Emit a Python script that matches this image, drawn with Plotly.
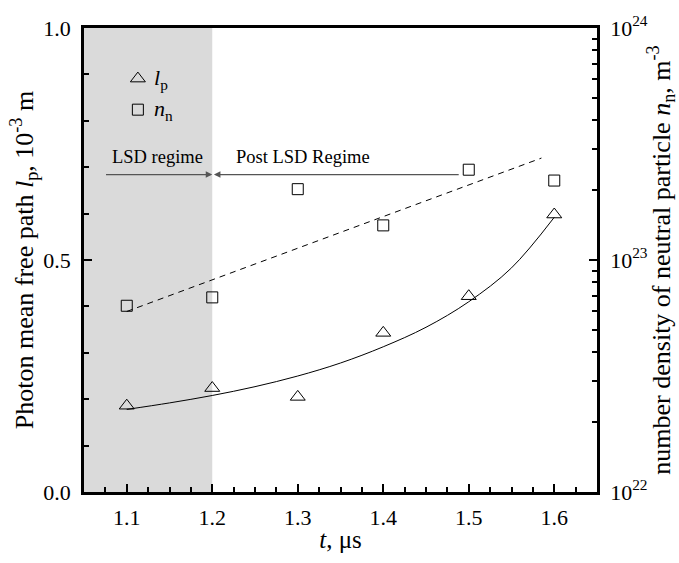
import plotly.graph_objects as go

# ---- data ----
t_us = [1.1, 1.2, 1.3, 1.4, 1.5, 1.6]
l_p = [0.186, 0.224, 0.205, 0.343, 0.422, 0.598]          # 10^-3 m
n_n = [6.35e22, 6.9e22, 2.02e23, 1.41e23, 2.45e23, 2.2e23]  # m^-3

# fitted curve for l_p
fit_t = [1.1, 1.15, 1.2, 1.25, 1.3, 1.35, 1.4, 1.45, 1.5, 1.55, 1.6]
fit_lp = [0.178, 0.192, 0.208, 0.227, 0.25, 0.278, 0.313, 0.355, 0.41, 0.483, 0.592]

# fitted line for n_n (log scale)
fit_nt = [1.1, 1.585]
fit_nn = [6.0e22, 2.75e23]

x_range = [1.05, 1.65]
lsd_end = 1.2
y2_tickvals = [1e22, 1e23, 1e24]
y2_ticktext = ["10<sup>22</sup>", "10<sup>23</sup>", "10<sup>24</sup>"]
y2_minor = [float(k) * 10.0 ** e for e in (22, 23) for k in range(2, 10)]

FONT = "Liberation Serif"

fig = go.Figure()

fig.add_trace(go.Scatter(x=fit_t, y=fit_lp, mode="lines", line=dict(color="black", width=1, shape="spline"),
                         showlegend=False, hoverinfo="skip"))
fig.add_trace(go.Scatter(x=fit_nt, y=fit_nn, mode="lines", yaxis="y2",
                         line=dict(color="black", width=1, dash="6px,5px"), showlegend=False, hoverinfo="skip"))
fig.add_trace(go.Scatter(x=t_us, y=l_p, mode="markers", name="l_p",
                         marker=dict(symbol="triangle-up-open", size=13, color="black", line=dict(width=1)),
                         showlegend=False))
fig.add_trace(go.Scatter(x=t_us, y=n_n, mode="markers", yaxis="y2", name="n_n",
                         marker=dict(symbol="square-open", size=11, color="black", line=dict(width=1)),
                         showlegend=False))

# shaded LSD regime
fig.add_shape(type="rect", xref="x", yref="paper", x0=x_range[0], x1=lsd_end, y0=0, y1=1,
              fillcolor="#dadada", line=dict(width=0), layer="below")

# legend drawn as annotations + markers
fig.add_trace(go.Scatter(x=[1.113], y=[0.891], mode="markers", showlegend=False, hoverinfo="skip",
                         marker=dict(symbol="triangle-up-open", size=13, color="black", line=dict(width=1))))
fig.add_trace(go.Scatter(x=[1.113], y=[0.824], mode="markers", showlegend=False, hoverinfo="skip",
                         marker=dict(symbol="square-open", size=11, color="black", line=dict(width=1))))
fig.add_annotation(x=1.13, y=0.891, text="<i>l</i><sub>p</sub>", showarrow=False, xanchor="left",
                   font=dict(family=FONT, size=22, color="black"))
fig.add_annotation(x=1.13, y=0.824, text="<i>n</i><sub>n</sub>", showarrow=False, xanchor="left",
                   font=dict(family=FONT, size=22, color="black"))

# arrows
arrow_y = 0.684
fig.add_annotation(x=lsd_end, y=arrow_y, ax=1.074, ay=arrow_y, xref="x", yref="y", axref="x", ayref="y",
                   showarrow=True, arrowhead=2, arrowsize=1, arrowwidth=1.3, arrowcolor="#555555", text="")
fig.add_annotation(x=lsd_end + 0.002, y=arrow_y, ax=1.49, ay=arrow_y, xref="x", yref="y", axref="x", ayref="y",
                   showarrow=True, arrowhead=2, arrowsize=1, arrowwidth=1.3, arrowcolor="#555555", text="")
fig.add_annotation(x=1.136, y=0.722, text="LSD regime", showarrow=False,
                   font=dict(family=FONT, size=18.5, color="black"))
fig.add_annotation(x=1.306, y=0.722, text="Post LSD Regime", showarrow=False,
                   font=dict(family=FONT, size=18.5, color="black"))

axis_common = dict(showline=True, linecolor="black", linewidth=2.5, ticks="inside", tickcolor="black",
                   tickwidth=2, ticklen=8, showgrid=False, zeroline=False,
                   tickfont=dict(family=FONT, size=22, color="black"))

fig.update_layout(
    width=679, height=563,
    margin=dict(l=84, r=76, t=14, b=71),
    plot_bgcolor="white", paper_bgcolor="white",
    showlegend=False,
    font=dict(family=FONT),
    xaxis=dict(range=x_range, dtick=0.1, tick0=1.1, mirror=True, ticklabelstandoff=4,
               minor=dict(dtick=0.025, tick0=1.1, ticks="inside", ticklen=5, tickwidth=2, tickcolor="black"),
               title=dict(text="<i>t</i>, μs", font=dict(family=FONT, size=25, color="black"), standoff=2),
               **axis_common),
    yaxis=dict(range=[0, 1], dtick=0.5, tickformat=".1f", mirror=True, ticklabelstandoff=6,
               minor=dict(dtick=0.1, ticks="inside", ticklen=5, tickwidth=2, tickcolor="black"),
               title=dict(text="Photon mean free path <i>l</i><sub>p</sub>, 10<sup>-3</sup> m",
                          font=dict(family=FONT, size=26, color="black"), standoff=3),
               **axis_common),
    yaxis2=dict(type="log", range=[22, 24], overlaying="y", side="right", ticklabelstandoff=6,
                tickmode="array", tickvals=y2_tickvals, ticktext=y2_ticktext,
                minor=dict(tickmode="array", tickvals=y2_minor, ticks="inside", ticklen=5, tickwidth=2,
                           tickcolor="black"),
                title=dict(text="number density of neutral particle <i>n</i><sub>n</sub>, m<sup>-3</sup>",
                           font=dict(family=FONT, size=26, color="black"), standoff=1),
                **axis_common),
)

fig.write_html("out.html")
